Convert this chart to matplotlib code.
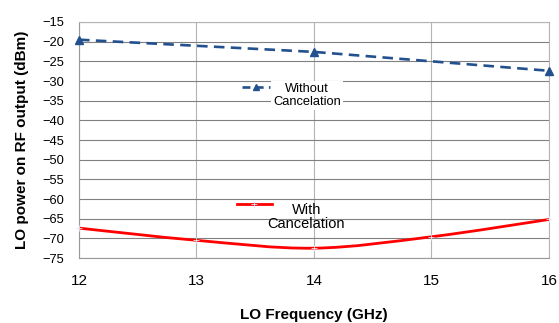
import matplotlib
matplotlib.use("Agg")
import matplotlib.pyplot as plt
import numpy as np
from matplotlib.lines import Line2D
from matplotlib.path import Path
from matplotlib.patches import PathPatch
from matplotlib.legend_handler import HandlerLine2D

plt.rcParams['font.family'] = ['Liberation Sans', 'DejaVu Sans']

# data
freq_without = [12, 14, 16]
power_without = [-19.5, -22.6, -27.4]
freq_with = [12, 13, 14, 15, 16]
power_with = [-67.4, -70.5, -72.5, -69.6, -65.2]
x_ticks = [12, 13, 14, 15, 16]
y_ticks = list(range(-75, -14, 5))

BLUE = '#23508e'
RED = '#ff0000'


class LiftedLine(HandlerLine2D):
    """Legend handle shifted up so it lines up with the first text line"""

    def __init__(self, lift, **kw):
        super().__init__(**kw)
        self.lift = lift

    def create_artists(self, legend, orig_handle, xdescent, ydescent, width, height, fontsize, trans):
        artists = super().create_artists(legend, orig_handle, xdescent, ydescent, width, height, fontsize, trans)
        for a in artists:
            a.set_ydata(np.asarray(a.get_ydata(), dtype=float) + self.lift * fontsize)
        return artists


def smooth_path(xs, ys):
    """Excel-like smoothed line: Catmull-Rom converted to cubic Bezier segments"""
    pts = np.column_stack([xs, ys]).astype(float)
    verts = [pts[0]]
    codes = [Path.MOVETO]
    n = len(pts)
    for i in range(n - 1):
        p0 = pts[i - 1] if i > 0 else pts[i]
        p1 = pts[i]
        p2 = pts[i + 1]
        p3 = pts[i + 2] if i + 2 < n else pts[i + 1]
        verts += [p1 + (p2 - p0) / 6, p2 - (p3 - p1) / 6, p2]
        codes += [Path.CURVE4] * 3
    return Path(verts, codes)


fig = plt.figure(figsize=(5.59, 3.23), dpi=100)
ax = fig.add_axes([0.1413, 0.2012, 0.8407, 0.7307])

ax.set_xlim(12, 16)
ax.set_ylim(-75, -15)
ax.set_xticks(x_ticks)
ax.set_yticks(y_ticks)
ax.tick_params(axis='both', length=0)
ax.tick_params(axis='x', labelsize=11, pad=11.5)
ax.tick_params(axis='y', labelsize=9.3, pad=10.5)

ax.yaxis.grid(True, color='#808080', linewidth=0.8)
ax.xaxis.grid(True, color='#b4b4b4', linewidth=0.8)
ax.set_axisbelow(True)
for side in ['top', 'right']:
    ax.spines[side].set_color('#b4b4b4')
for side in ['left', 'bottom']:
    ax.spines[side].set_color('#999999')
for s in ax.spines.values():
    s.set_linewidth(0.8)

# without cancelation: dashed with triangles
line_without, = ax.plot(freq_without, power_without, color=BLUE, linewidth=1.9,
                        dashes=(4, 2.4), marker='^', markersize=5.5, clip_on=False, zorder=4)

# with cancelation: smoothed red line
ax.add_patch(PathPatch(smooth_path(freq_with, power_with), facecolor='none', edgecolor=RED,
                       linewidth=2, transform=ax.transData, zorder=4, clip_on=False))
ax.plot(freq_with, power_with, linestyle='none', marker='+', markersize=4,
        markeredgecolor='#dde4f4', markeredgewidth=0.6, zorder=5, clip_on=False)

ax.set_xlabel('LO Frequency (GHz)', fontsize=11, fontweight='bold')
ax.set_ylabel('LO power on RF output (dBm)', fontsize=11, fontweight='bold')
ax.xaxis.set_label_coords(0.5, -0.21)
ax.yaxis.set_label_coords(-0.107, 0.5)

# legends
blue_proxy = Line2D([], [], color=BLUE, linewidth=1.9, dashes=(3, 2), marker='^', markersize=4.5)
leg1 = ax.legend([blue_proxy], ['Without\nCancelation'], loc='upper left',
                 bbox_to_anchor=(0.347, 0.743), frameon=False, fontsize=9.3,
                 handlelength=2.2, handletextpad=0.2, borderpad=0, borderaxespad=0,
                 handler_map={blue_proxy: LiftedLine(0.64)})
t1 = leg1.get_texts()[0]
t1.set_multialignment('center')
t1.set_linespacing(1.1)
t1.set_bbox(dict(facecolor='white', edgecolor='none', pad=1.5))
ax.add_artist(leg1)

red_proxy = Line2D([], [], color=RED, linewidth=2, marker='+', markersize=4,
                   markeredgecolor='#dde4f4', markeredgewidth=0.6)
leg2 = ax.legend([red_proxy], ['With\nCancelation'], loc='upper left',
                 bbox_to_anchor=(0.336, 0.232), frameon=False, fontsize=10.5,
                 handlelength=2.4, handletextpad=-0.3, borderpad=0, borderaxespad=0,
                 handler_map={red_proxy: LiftedLine(0.91)})
t2 = leg2.get_texts()[0]
t2.set_multialignment('center')
t2.set_linespacing(1.0)

fig.savefig('out.png', dpi=100)
